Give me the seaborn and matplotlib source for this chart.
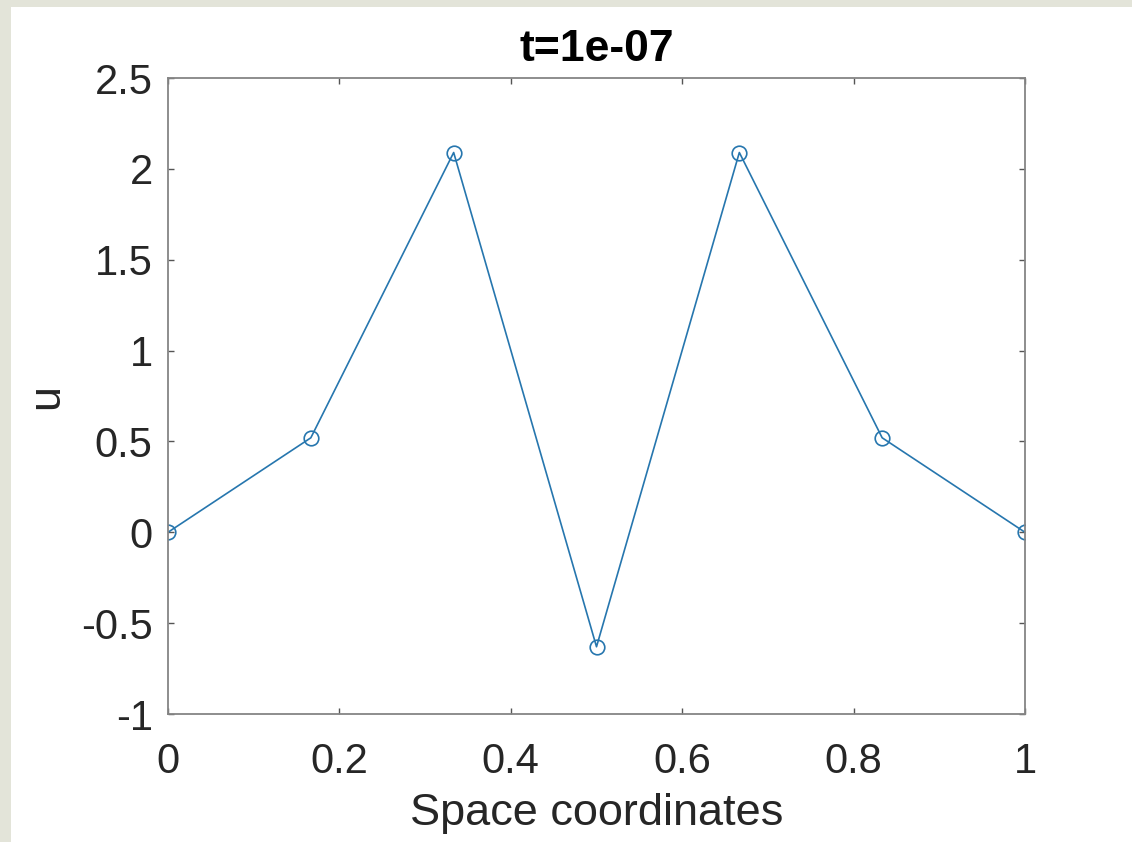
import matplotlib
matplotlib.use("Agg")
import matplotlib.pyplot as plt
from matplotlib.patches import Rectangle
import seaborn as sns
import pandas as pd

# Solution snapshot on a uniform grid of 7 nodes
x_nodes = [0.0, 1/6, 1/3, 0.5, 2/3, 5/6, 1.0]
u_values = [0.0, 0.52, 2.09, -0.63, 2.09, 0.52, 0.0]
x_ticks = [0, 0.2, 0.4, 0.6, 0.8, 1.0]
x_tick_labels = ["0", "0.2", "0.4", "0.6", "0.8", "1"]
y_ticks = [-1, -0.5, 0, 0.5, 1, 1.5, 2, 2.5]
y_tick_labels = ["-1", "-0.5", "0", "0.5", "1", "1.5", "2", "2.5"]
title_text = "t=1e-07"

sns.set_style("ticks")
plt.rcParams["font.family"] = ["Liberation Sans", "DejaVu Sans"]

text_color = "#262626"
line_color = "#2676ae"

fig = plt.figure(figsize=(11.32, 8.42), dpi=100, facecolor="white")
W, H = 1132, 842
# window frame bands on the left and top
fig.patches.append(Rectangle((0, 0), 11 / W, 1, transform=fig.transFigure,
                             facecolor="#e3e4d9", edgecolor="none", zorder=-1))
fig.patches.append(Rectangle((0, 1 - 7 / H), 1, 7 / H, transform=fig.transFigure,
                             facecolor="#e3e4d9", edgecolor="none", zorder=-1))

left, right = 168 / W, 1025 / W
bottom, top = 1 - 714 / H, 1 - 78 / H
ax = fig.add_axes([left, bottom, right - left, top - bottom])

df = pd.DataFrame({"x": x_nodes, "u": u_values})
sns.lineplot(data=df, x="x", y="u", ax=ax, color=line_color, linewidth=1.2,
             marker="o", markersize=10.5, markerfacecolor="none",
             markeredgecolor=line_color, markeredgewidth=1.2, sort=False)

ax.set_xlim(0, 1)
ax.set_ylim(-1, 2.5)
ax.set_xticks(x_ticks)
ax.set_xticklabels(x_tick_labels)
ax.set_yticks(y_ticks)
ax.set_yticklabels(y_tick_labels)

for s in ax.spines.values():
    s.set_visible(True)
    s.set_color("#858585")
    s.set_linewidth(1.3)

ax.tick_params(axis="both", which="major", direction="in", length=4,
               width=1.0, color="#555555", labelsize=30, labelcolor=text_color,
               top=True, right=True)
ax.tick_params(axis="x", pad=20)
ax.tick_params(axis="y", pad=11)

ax.set_xlabel("Space coordinates", fontsize=32.5, color=text_color, labelpad=8)
ax.set_ylabel("u", fontsize=32.5, color=text_color, labelpad=10)
ax.set_title(title_text, fontsize=32, fontweight="bold", color="black", pad=12)

fig.savefig("out.png", dpi=100, facecolor="white")
